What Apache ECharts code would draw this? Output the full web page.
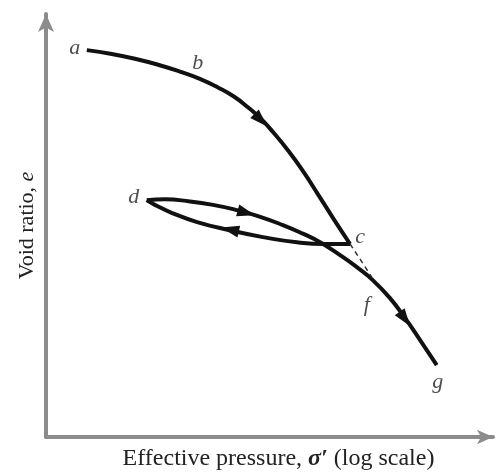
<!DOCTYPE html>
<html>
<head>
<meta charset="utf-8">
<script src="https://cdn.jsdelivr.net/npm/echarts@6/dist/echarts.min.js"></script>
<style>
  html, body { margin: 0; padding: 0; background: #fff; }
  #chart { width: 502px; height: 472px; }
</style>
</head>
<body>
<div id="chart"></div>
<script>
// curve points in arbitrary units: x ~ log(effective pressure), y ~ void ratio
var virgin = [[0.90, 9.00], [1.45, 8.91], [1.96, 8.80], [2.47, 8.66], [2.95, 8.50], [3.39, 8.33], [3.79, 8.13],
              [4.14, 7.92], [4.45, 7.67], [4.74, 7.40], [5.02, 7.07], [5.33, 6.67], [5.66, 6.19], [5.99, 5.65],
              [6.34, 5.07], [6.70, 4.49]];
var unload = [[6.70, 4.49], [6.15, 4.49], [5.53, 4.53], [4.78, 4.65], [4.05, 4.81], [3.33, 5.00], [2.78, 5.21],
              [2.40, 5.40], [2.22, 5.51]];
var reload = [[2.22, 5.51], [2.62, 5.53], [3.17, 5.48], [3.68, 5.40], [4.16, 5.29], [4.67, 5.14], [5.22, 4.93],
              [5.66, 4.73], [6.04, 4.53], [6.48, 4.23], [6.85, 3.95], [7.20, 3.65], [7.58, 3.23], [7.91, 2.77],
              [8.24, 2.26], [8.61, 1.67]];
var extension = [[6.70, 4.49], [7.18, 3.72]];

// arrow heads: midpoint of two points on a curve, pointing along it
var arrowMarks = [[virgin, 8, 10], [unload, 3, 5], [reload, 4, 5], [reload, 12, 14]];
// point labels: letter, curve, point index
var pointLabels = [['a', virgin, 0], ['b', virgin, 5], ['c', virgin, 15], ['d', unload, 8], ['f', reload, 11], ['g', reload, 15]];
var labelOffsets = {a: [-12, -2], b: [-2, -16], c: [10, -7], d: [-13, -3], f: [-6, 25], g: [1, 17]};

var pxX = 45.4, pxY = 43;
var arrowData = arrowMarks.map(function (m) {
    var p = m[0][m[1]], q = m[0][m[2]];
    var ang = Math.atan2((q[1] - p[1]) * pxY, (q[0] - p[0]) * pxX) * 180 / Math.PI;
    return {value: [(p[0] + q[0]) / 2, (p[1] + q[1]) / 2], symbolRotate: ang - 90};
});
var labelData = pointLabels.map(function (l) {
    return {name: l[0], value: l[1][l[2]], label: {offset: labelOffsets[l[0]]}};
});

var axisColor = '#8c8c8c';
var curve = {type: 'line', smooth: 0.5, symbol: 'none', lineStyle: {color: '#111', width: 4}};

var option = {
    animation: false,
    grid: {left: 46, right: 9, top: 14, bottom: 35, outerBoundsMode: 'none'},
    xAxis: {
        type: 'value', min: 0, max: 9.85,
        axisLine: {lineStyle: {color: axisColor, width: 4}, symbol: ['none', 'arrow'], symbolSize: [11, 16]},
        axisTick: {show: false}, axisLabel: {show: false}, splitLine: {show: false},
        name: 'Effective pressure, {s|\u03c3\u2032} (log scale)',
        nameLocation: 'middle', nameGap: 10,
        nameTextStyle: {
            fontFamily: 'Liberation Serif', fontSize: 24, color: '#222', verticalAlign: 'top',
            padding: [0, 0, 0, 18],
            rich: {s: {fontFamily: 'Liberation Serif', fontSize: 24, fontStyle: 'italic', fontWeight: 'bold', color: '#222'}}
        }
    },
    yAxis: {
        type: 'value', min: 0, max: 9.84,
        axisLine: {lineStyle: {color: axisColor, width: 4}, symbol: ['none', 'arrow'], symbolSize: [12, 18]},
        axisTick: {show: false}, axisLabel: {show: false}, splitLine: {show: false},
        name: 'Void ratio, {e|e}',
        nameLocation: 'middle', nameGap: 8,
        nameTextStyle: {
            fontFamily: 'Liberation Serif', fontSize: 22, color: '#222', verticalAlign: 'bottom',
            rich: {e: {fontFamily: 'Liberation Serif', fontSize: 22, fontStyle: 'italic', color: '#222'}}
        }
    },
    series: [
        Object.assign({}, curve, {data: virgin}),
        Object.assign({}, curve, {data: unload}),
        Object.assign({}, curve, {data: reload}),
        {type: 'line', symbol: 'none', data: extension, lineStyle: {color: '#333', width: 1.5, type: [5, 4]}},
        {type: 'scatter', symbol: 'triangle', symbolSize: [12, 18], data: arrowData,
         itemStyle: {color: '#111', opacity: 1}, z: 5},
        {type: 'scatter', symbolSize: 0, data: labelData,
         label: {show: true, position: 'inside', formatter: '{b}', fontFamily: 'Liberation Serif',
                 fontStyle: 'italic', fontSize: 22, color: '#222'}}
    ]
};

var chart = echarts.init(document.getElementById('chart'));
chart.setOption(option);
</script>
</body>
</html>
